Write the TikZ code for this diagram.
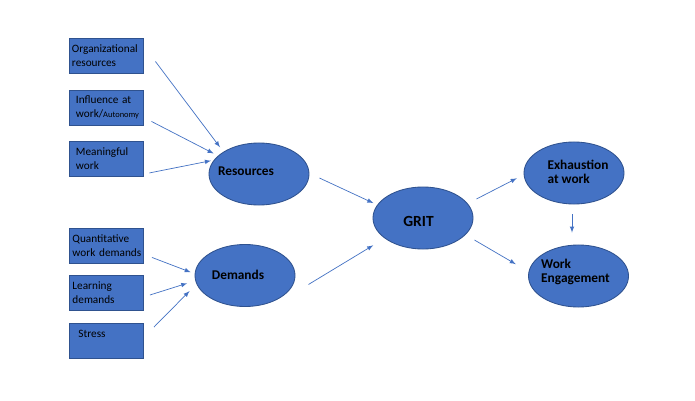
\documentclass[tikz,border=0pt]{standalone}
\usepackage{fontspec}
\setmainfont{Carlito}
\usetikzlibrary{shapes.geometric, arrows}

\definecolor{officeblue}{HTML}{4472C4}
\definecolor{edgeblue}{HTML}{2F528F}

\begin{document}
\begin{tikzpicture}[
    x=0.025cm, y=-0.025cm,
    factor/.style={rectangle, draw=edgeblue, line width=0.6pt, fill=officeblue, minimum height=0.875cm, text width=1.7cm, inner xsep=0.075cm, align=left, font=\fontsize{8}{10}\selectfont},
    construct/.style={ellipse, draw=edgeblue, line width=0.6pt, fill=officeblue, minimum width=2.5cm, minimum height=1.55cm, inner sep=0pt},
    ovaltext/.style={font=\fontsize{9.5}{10}\selectfont\bfseries, align=left},
    arrow/.style={->, >=latex, officeblue, line width=0.5pt}
  ]

  \useasboundingbox[fill=white] (0,0) rectangle (695,400);

  % Resource factors
  \node[factor] (org) at (106,55.5) {Organizational\\resources};
  \node[factor] (infl) at (106,107.5) {\hspace*{0.1cm}Influence at\\\hspace*{0.1cm}work/{\fontsize{6}{7}\selectfont Autonomy}};
  \node[factor] (mean) at (106,159) {\hspace*{0.1cm}Meaningful\\\hspace*{0.1cm}work};

  % Demand factors
  \node[factor] (quant) at (106.5,245.5) {Quantitative\\\mbox{work demands}};
  \node[factor] (learn) at (106.5,293) {Learning\\demands};
  \node[factor] (stress) at (106.5,341) {\hspace*{0.15cm}Stress\\\mbox{}};

  % Constructs
  \node[construct, label={[ovaltext, shift={(-13,-3)}]center:Resources}] (res) at (259,174) {};
  \node[construct, label={[ovaltext, shift={(-7,-1)}]center:Demands}] (dem) at (245,275.5) {};
  \node[construct, label={[ovaltext, font=\fontsize{11}{12}\selectfont\bfseries, shift={(-4.5,3)}]center:GRIT}] (grit) at (423,218) {};
  \node[construct, label={[ovaltext, shift={(4,-1)}]center:Exhaustion\\at work}] (exh) at (574,173) {};
  \node[construct, label={[ovaltext, shift={(-3,-4)}]center:Work\\Engagement}] (we) at (578.5,276) {};

  % Arrows into resources and demands
  \draw[arrow, shorten >=4pt] ([shift={(12,6)}]org.east) -- (res.148);
  \draw[arrow, shorten >=3.5pt] ([shift={(8,-4)}]infl.south east) -- (res.156);
  \draw[arrow, shorten >=2pt] ([shift={(6,-4)}]mean.south east) -- (res.163);
  \draw[arrow, shorten >=3pt] ([shift={(8,-6)}]quant.south east) -- (dem.178);
  \draw[arrow, shorten >=6pt] ([shift={(6,2)}]learn.east) -- (dem.186);
  \draw[arrow, shorten >=7pt] ([shift={(10,4)}]stress.north east) -- (dem.190);

  % Arrows into GRIT
  \draw[arrow, shorten >=3pt] ([shift={(10,4)}]res.east) -- (grit.164);
  \draw[arrow, shorten >=9.5pt] ([shift={(13,9)}]dem.east) -- (grit.208);

  % Outcomes
  \draw[arrow, shorten >=5.5pt] ([shift={(3,-19)}]grit.east) -- (exh.182);
  \draw[arrow, shorten >=10.5pt] ([shift={(1,22)}]grit.east) -- (we.175);
  \draw[arrow] ([shift={(-2,10)}]exh.south) -- ([shift={(-6.5,-12)}]we.north);

\end{tikzpicture}
\end{document}
